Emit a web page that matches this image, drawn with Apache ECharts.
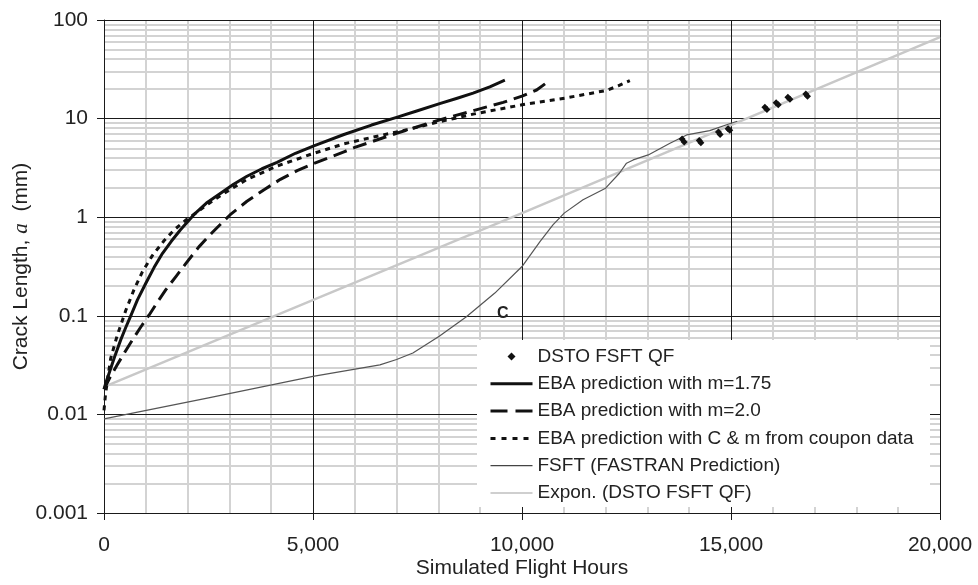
<!DOCTYPE html>
<html>
<head>
<meta charset="utf-8">
<script src="https://cdn.jsdelivr.net/npm/echarts@6/dist/echarts.min.js"></script>
<style>html,body{margin:0;padding:0;background:#fff}#c{width:978px;height:585px}</style>
</head>
<body>
<div id="c"></div>
<script>
// ---- tick labels ----
const xTickLabels = ['0', '5,000', '10,000', '15,000', '20,000'];
const yTickLabels = ['0.001', '0.01', '0.1', '1', '10', '100'];

// ---- series names ----
const seriesNames = [
  'DSTO FSFT QF',
  'EBA prediction with m=1.75',
  'EBA prediction with m=2.0',
  'EBA prediction with C & m from coupon data',
  'FSFT (FASTRAN Prediction)',
  'Expon. (DSTO FSFT QF)'
];

// ---- DSTO FSFT QF (measured points) ----
const qfHours = [13830, 13880, 14240, 14280, 14700, 14740, 14930, 14970, 15810, 15860, 16080, 16130, 16360, 16410, 16790, 16830];
const qfCrack = [6.2, 5.8, 6.0, 5.7, 7.3, 6.9, 7.9, 7.6, 13.0, 12.4, 14.5, 13.8, 16.5, 15.7, 17.8, 16.9];

// ---- EBA m=1.75 ----
const m175Hours = [0, 60, 120, 250, 400, 520, 640, 800, 1000, 1200, 1400, 1610, 1830, 2150, 2450, 2790, 3100, 3420, 3780, 4140, 4580, 5020, 5740, 6400, 7000, 7500, 8030, 8450, 8830, 9230, 9590];
const m175Crack = [0.018, 0.022, 0.026, 0.038, 0.057, 0.076, 0.1, 0.145, 0.214, 0.31, 0.43, 0.57, 0.745, 1.06, 1.39, 1.75, 2.16, 2.6, 3.1, 3.6, 4.45, 5.3, 6.9, 8.6, 10.3, 12.0, 14.2, 16.1, 18.1, 21.0, 24.5];

// ---- EBA m=2.0 ----
const m20Hours = [0, 150, 320, 500, 680, 880, 1080, 1280, 1480, 1720, 1960, 2270, 2590, 3020, 3420, 3820, 4220, 4620, 5020, 5740, 6000, 7000, 8030, 9030, 9550, 10000, 10350, 10670];
const m20Crack = [0.018, 0.024, 0.032, 0.043, 0.057, 0.077, 0.102, 0.138, 0.184, 0.25, 0.34, 0.5, 0.7, 1.06, 1.45, 1.89, 2.42, 2.97, 3.5, 4.6, 5.1, 7.1, 9.7, 12.7, 14.6, 16.9, 19.5, 24.5];

// ---- EBA with C & m from coupon data ----
const cpnHours = [0, 30, 80, 160, 320, 520, 720, 920, 1160, 1440, 1680, 1950, 2220, 2500, 2790, 3420, 4140, 5020, 5740, 6440, 7240, 8030, 8830, 10000, 11020, 12020, 12300, 12580];
const cpnCrack = [0.011, 0.015, 0.022, 0.037, 0.064, 0.113, 0.185, 0.28, 0.41, 0.58, 0.745, 0.93, 1.12, 1.37, 1.66, 2.42, 3.3, 4.45, 5.55, 6.5, 7.7, 9.3, 11.1, 13.8, 16.1, 19.3, 21.5, 24.3];

// ---- FSFT (FASTRAN prediction) ----
const fsftHours = [0, 2500, 5000, 6600, 7000, 7390, 8020, 8670, 9350, 10000, 10430, 10740, 11010, 11460, 12000, 12330, 12500, 12660, 13020, 13540, 13940, 14490, 15000, 15150];
const fsftCrack = [0.009, 0.0147, 0.0243, 0.0318, 0.036, 0.042, 0.062, 0.098, 0.17, 0.316, 0.566, 0.836, 1.1, 1.5, 1.97, 2.79, 3.53, 3.81, 4.28, 5.62, 6.83, 7.55, 8.97, 9.4];

// ---- Exponential fit ----
const expHours = [0, 10000, 20000];
const expCrack = [0.019, 1.1, 67];

// ---- annotation ----
const noteText = ['C'];
const noteHours = [9540];
const noteCrack = [0.106];

const zip = (a, b) => a.map((v, i) => [v, b[i]]);

// grid line positions (layout)
const X_MIN = 0, X_MAX = 20000, Y_MIN = 0.001, Y_MAX = 100;
const majorX = [5000, 10000, 15000, 20000];
const majorY = [0.01, 0.1, 1, 10, 100];
const decades = [0.001, 0.01, 0.1, 1, 10];
const minorX = [];
for (let h = 1000; h < 20000; h += 1000) if (h % 5000 !== 0) minorX.push(h);
const minorY = [];
for (const d of decades) for (let k = 2; k <= 9; k++) minorY.push(+(k * d).toPrecision(3));

const GRAY = '#d3d3d3', BLACK = '#1a1a1a';
const LEGEND_BOX = { x: 477, y: 340, width: 453, height: 167 }; // pixel layout of the legend panel

const FONT = 'Liberation Sans';
const chart = echarts.init(document.getElementById('c'), null, { renderer: 'canvas' });

const lineBase = {
  type: 'line', showSymbol: false, symbol: 'none', animation: false,
  emphasis: { disabled: true }, silent: true
};
const hideSym = { opacity: 0, color: 'rgba(0,0,0,0)', borderWidth: 0 };

const baseOption = {
  animation: false,
  backgroundColor: '#fff',
  grid: { left: 104, right: 38, top: 20, bottom: 72, outerBoundsMode: 'none', containLabel: false },
  xAxis: {
    type: 'value', min: X_MIN, max: X_MAX, interval: 5000, z: 3,
    axisLine: { show: true, onZero: false, lineStyle: { color: BLACK, width: 1 } },
    axisTick: { show: true, inside: false, length: 7, lineStyle: { color: BLACK, width: 1 } },
    axisLabel: {
      formatter: v => xTickLabels[Math.round(v / 5000)],
      fontFamily: FONT, fontSize: 21, color: '#222', margin: 22
    },
    splitLine: { show: false },
    name: 'Simulated Flight Hours', nameLocation: 'middle', nameGap: 45, nameMoveOverlap: false,
    nameTextStyle: { fontFamily: FONT, fontSize: 21, color: '#222' }
  },
  yAxis: {
    type: 'log', logBase: 10, min: Y_MIN, max: Y_MAX, z: 3,
    axisLine: { show: true, onZero: false, lineStyle: { color: BLACK, width: 1 } },
    axisTick: { show: true, inside: false, length: 7, lineStyle: { color: BLACK, width: 1 } },
    axisLabel: {
      formatter: v => yTickLabels[Math.round(Math.log10(v)) + 3],
      fontFamily: FONT, fontSize: 21, color: '#222', margin: 16
    },
    splitLine: { show: false },
    name: 'Crack Length, {i|a}  (mm)', nameLocation: 'middle', nameGap: 72, nameRotate: 90,
    nameMoveOverlap: false,
    nameTextStyle: {
      fontFamily: FONT, fontSize: 21, color: '#222',
      rich: { i: { fontFamily: 'Liberation Serif', fontStyle: 'italic', fontSize: 21, color: '#222' } }
    }
  },
  legend: {
    orient: 'vertical', left: 489, top: 347, padding: 0, itemWidth: 42, itemHeight: 10, itemGap: 8.3,
    selectedMode: false, zlevel: 1, z: 2,
    textStyle: { fontFamily: FONT, fontSize: 19, color: '#222', lineHeight: 19 },
    data: [
      { name: seriesNames[0] },
      { name: seriesNames[1], itemStyle: hideSym, lineStyle: { color: '#111', width: 3, type: 'solid' } },
      { name: seriesNames[2], itemStyle: hideSym, lineStyle: { color: '#111', width: 3, type: [17, 8] } },
      { name: seriesNames[3], itemStyle: hideSym, lineStyle: { color: '#111', width: 3, type: [5, 6] } },
      { name: seriesNames[4], itemStyle: hideSym, lineStyle: { color: '#444', width: 1.2, type: 'solid' } },
      { name: seriesNames[5], itemStyle: hideSym, lineStyle: { color: '#cfcfcf', width: 2, type: 'solid' } }
    ]
  },
  graphic: {
    zlevel: 1, z: 1,
    elements: [{
      type: 'rect', zlevel: 1, z: 1, silent: true,
      shape: LEGEND_BOX,
      style: { fill: '#fff' }
    }]
  },
  series: [
    Object.assign({}, lineBase, {
      name: '_grid', data: [], z: 1,
      markLine: {
        z: 1, silent: true, animation: false, symbol: ['none', 'none'],
        label: { show: false }, emphasis: { disabled: true },
        data: []
      },
      markPoint: {
        z: 6, silent: true, animation: false, symbol: 'circle', symbolSize: 1,
        itemStyle: { color: 'rgba(0,0,0,0)' },
        label: { show: true, position: 'inside', formatter: p => p.name, fontFamily: FONT, fontSize: 16, fontWeight: 'bold', color: '#222' },
        data: noteText.map((t, i) => ({ name: t, coord: [noteHours[i], noteCrack[i]] }))
      }
    }),
    Object.assign({}, lineBase, {
      name: seriesNames[5], data: zip(expHours, expCrack), z: 4,
      itemStyle: { color: '#c8c8c8' },
      lineStyle: { color: '#c8c8c8', width: 2.5, type: 'solid' }
    }),
    Object.assign({}, lineBase, {
      name: seriesNames[4], data: zip(fsftHours, fsftCrack), z: 5,
      itemStyle: { color: '#555' },
      lineStyle: { color: '#555', width: 1.2, type: 'solid' }
    }),
    Object.assign({}, lineBase, {
      name: seriesNames[1], data: zip(m175Hours, m175Crack), z: 6,
      itemStyle: { color: '#111' },
      lineStyle: { color: '#111', width: 3, type: 'solid', join: 'round' }
    }),
    Object.assign({}, lineBase, {
      name: seriesNames[2], data: zip(m20Hours, m20Crack), z: 6,
      itemStyle: { color: '#111' },
      lineStyle: { color: '#111', width: 3, type: [14, 7], join: 'round' }
    }),
    Object.assign({}, lineBase, {
      name: seriesNames[3], data: zip(cpnHours, cpnCrack), z: 6,
      itemStyle: { color: '#111' },
      lineStyle: { color: '#111', width: 3, type: [5, 5], join: 'round' }
    }),
    {
      // measured points drawn as symbols only (connecting line hidden)
      name: seriesNames[0], type: 'line', symbol: 'diamond', symbolSize: 7, showSymbol: true, z: 7,
      animation: false, silent: true, emphasis: { disabled: true },
      itemStyle: { color: '#111', borderWidth: 0 },
      lineStyle: { width: 0, opacity: 0 },
      data: zip(qfHours, qfCrack)
    }
  ]
};
chart.setOption(baseOption);

// legend panel edges in data space, so grid lines stop at the panel
const tl = chart.convertFromPixel({ gridIndex: 0 }, [LEGEND_BOX.x, LEGEND_BOX.y]);
const br = chart.convertFromPixel({ gridIndex: 0 }, [LEGEND_BOX.x + LEGEND_BOX.width, LEGEND_BOX.y + LEGEND_BOX.height]);
const bxL = tl[0], bxR = br[0], byT = tl[1], byB = br[1];

const gs = c => ({ color: c, width: c === GRAY ? 2 : 1, type: 'solid' });
const seg = (x1, y1, x2, y2, c) => [{ coord: [x1, y1], lineStyle: gs(c) }, { coord: [x2, y2] }];
const lines = [];
// vertical lines
for (const v of minorX.concat(majorX)) {
  const c = majorX.includes(v) ? BLACK : GRAY;
  if (v > bxL && v < bxR) {
    lines.push(seg(v, byT, v, Y_MAX, c));
    lines.push(seg(v, Y_MIN, v, byB, c));
  } else lines.push(seg(v, Y_MIN, v, Y_MAX, c));
}
// horizontal lines (minor first, majors drawn over)
for (const v of minorY.concat(majorY)) {
  const c = majorY.includes(v) ? BLACK : GRAY;
  if (v < byT && v > byB) {
    lines.push(seg(X_MIN, v, bxL, v, c));
    lines.push(seg(bxR, v, X_MAX, v, c));
  } else lines.push(seg(X_MIN, v, X_MAX, v, c));
}
// sort so gray minors are drawn first
lines.sort((a, b) => (a[0].lineStyle.color === GRAY ? 0 : 1) - (b[0].lineStyle.color === GRAY ? 0 : 1));
chart.setOption({ series: [{ name: '_grid', markLine: { data: lines } }] });
</script>
</body>
</html>
